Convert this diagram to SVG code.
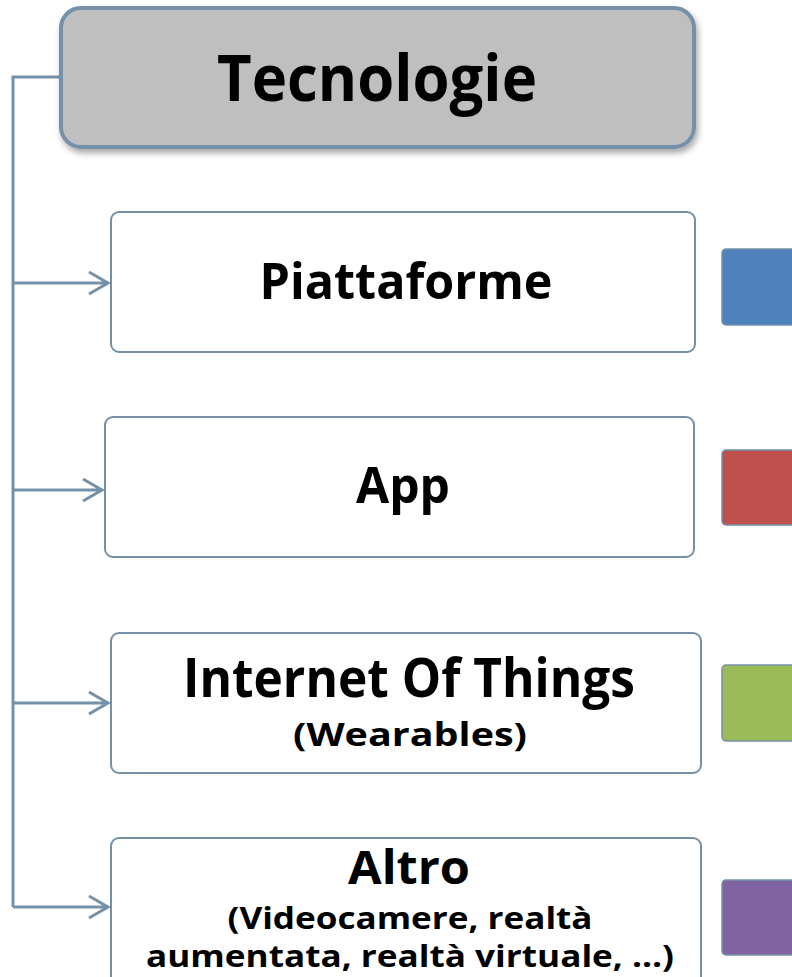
<svg xmlns="http://www.w3.org/2000/svg" width="792" height="977" viewBox="0 0 792 977">
<style>
.box{fill:#ffffff;stroke:#7591a9;stroke-width:2}
.sq{stroke:#7591a9;stroke-width:1.5}
.conn{fill:none;stroke:#7591a9;stroke-width:3}
text{font-family:"Open Sans","Liberation Sans",sans-serif;font-weight:bold;fill:#000;text-anchor:middle}
</style>
<defs>
<filter id="sh" x="-10%" y="-20%" width="120%" height="150%">
<feDropShadow dx="2" dy="4" stdDeviation="3" flood-color="#000" flood-opacity="0.35"/>
</filter>
</defs>
<rect width="792" height="977" fill="#ffffff"/>
<g id="connectors">
<path class="conn" d="M60,77 H13 V907"/>
<path class="conn" d="M13,283 H108 M89,272 L108,283 L89,294"/>
<path class="conn" d="M13,490 H102 M83,479 L102,490 L83,501"/>
<path class="conn" d="M13,703 H108 M89,692 L108,703 L89,714"/>
<path class="conn" d="M13,907 H108 M89,896 L108,907 L89,918"/>
</g>
<g id="header">
<rect x="61" y="8" width="633" height="139" rx="20" fill="#bfbfbf" stroke="#7591a9" stroke-width="4" filter="url(#sh)"/>
<text x="377" y="101" font-size="64" textLength="320" lengthAdjust="spacingAndGlyphs">Tecnologie</text>
</g>
<g id="piattaforme">
<rect class="box" x="111" y="212" width="584" height="140" rx="8"/>
<text x="406" y="299" font-size="50" textLength="293" lengthAdjust="spacingAndGlyphs">Piattaforme</text>
</g>
<g id="app">
<rect class="box" x="105" y="417" width="589" height="140" rx="8"/>
<text x="403" y="503" font-size="50" textLength="94" lengthAdjust="spacingAndGlyphs">App</text>
</g>
<g id="iot">
<rect class="box" x="111" y="633" width="590" height="140" rx="8"/>
<text x="409" y="697" font-size="53" textLength="452" lengthAdjust="spacingAndGlyphs">Internet Of Things</text>
<text x="410" y="746" font-size="32" textLength="234" lengthAdjust="spacingAndGlyphs">(Wearables)</text>
</g>
<g id="altro">
<rect class="box" x="111" y="838" width="590" height="150" rx="8"/>
<text x="409" y="884" font-size="47" textLength="122" lengthAdjust="spacingAndGlyphs">Altro</text>
<text x="410" y="929" font-size="30" textLength="365" lengthAdjust="spacingAndGlyphs">(Videocamere, realtà</text>
<text x="410" y="967" font-size="30" textLength="528" lengthAdjust="spacingAndGlyphs">aumentata, realtà virtuale, …)</text>
</g>
<g id="squares">
<rect class="sq" x="722" y="249" width="100" height="76" rx="4" fill="#4f81bd"/>
<rect class="sq" x="722" y="450" width="100" height="75" rx="4" fill="#c0504d"/>
<rect class="sq" x="722" y="665" width="100" height="76" rx="4" fill="#9bbb59"/>
<rect class="sq" x="722" y="880" width="100" height="75" rx="4" fill="#8064a2"/>
</g>
</svg>
